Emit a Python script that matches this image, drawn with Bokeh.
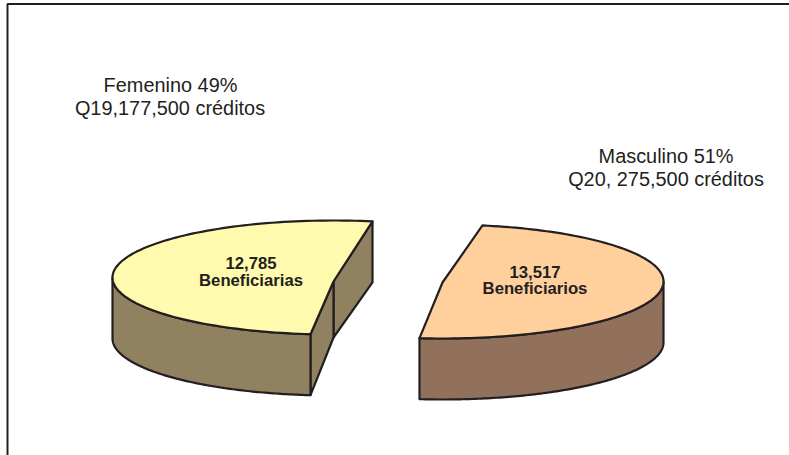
import numpy as np
from bokeh.plotting import figure
from bokeh.core.properties import value
from bokeh.embed import file_html
from bokeh.resources import INLINE

groups = ["Femenino", "Masculino"]
shares = [49, 51]
credits_q = ["Q19,177,500 créditos", "Q20, 275,500 créditos"]
head_labels = ["Femenino 49%", "Masculino 51%"]
benef_values = ["12,785", "13,517"]
benef_labels = ["Beneficiarias", "Beneficiarios"]
top_colors = ["#FFFAAE", "#FFCF9C"]
side_colors = ["#908161", "#91705C"]
INK = "#231F20"

W, H = 789, 455
p = figure(width=W, height=H, x_range=(0, W), y_range=(H, 0), output_backend="svg",
           toolbar_location=None, min_border=0, outline_line_color=None,
           margin=(0, 0, 0, 0))
p.axis.visible = False
p.grid.visible = False
p.background_fill_color = "white"
p.border_fill_color = "white"

# frame
p.line([7, 7, W], [H, 3.5, 3.5], line_color=INK, line_width=2)

DEPTH = 61
A = 221
B = 57

def param(dx, upper):
    t = np.degrees(np.arccos(dx / A))
    return t if upper else -t

def arc(cx, cy, t0, t1, n=120):
    t = np.radians(np.linspace(t0, t1, n))
    return cx + A * np.cos(t), cy - B * np.sin(t)

def poly(xs, ys, fill):
    p.patch(list(xs), list(ys), fill_color=fill, line_color=INK, line_width=2.2, line_join="round")

# Femenino wedge
cx, cy, ay0 = 333, 277, 281
t0, t1 = param(39, True), 360 + param(-23, False)
ax, ay = arc(cx, cy, t0, t1)
sx, sy = arc(cx, cy, 180, t1)
poly([ax[0], ax[0], cx, cx], [ay[0], ay[0] + DEPTH, ay0 + DEPTH - 5, ay0], side_colors[0])
poly([ax[-1], cx, cx, ax[-1]], [ay[-1], ay0, ay0 + DEPTH - 5, ay[-1] + DEPTH], side_colors[0])
poly(np.r_[sx, sx[::-1]], np.r_[sy, sy[::-1] + DEPTH], side_colors[0])
poly(np.r_[ax, cx], np.r_[ay, ay0], top_colors[0])

# Masculino wedge
cx, cy, ay0 = 442, 281, 282
t0, t1 = param(40, True), param(-23, False)
ax, ay = arc(cx, cy, t0, t1)
sx, sy = arc(cx, cy, 0, t1)
poly(np.r_[sx, sx[::-1]], np.r_[sy, sy[::-1] + DEPTH], side_colors[1])
poly(np.r_[ax, cx], np.r_[ay, ay0], top_colors[1])

font = value("Liberation Sans")
p.text([170, 665.5], [84, 155.5], text=head_labels, text_font=font, text_font_size="19.9px",
       text_color=INK, text_align="center", text_baseline="middle")
p.text([169.5, 665.5], [107.5, 178.5], text=credits_q, text_font=font, text_font_size="19.9px",
       text_color=INK, text_align="center", text_baseline="middle")
p.text([250.5, 534.5], [262, 271], text=benef_values, text_font=font, text_font_size="16.7px",
       text_font_style="bold", text_color=INK, text_align="center", text_baseline="middle")
p.text([250.5, 534.5], [279.5, 288], text=benef_labels, text_font=font, text_font_size="16.7px",
       text_font_style="bold", text_color=INK, text_align="center", text_baseline="middle")

open("out.html", "w").write(file_html(p, INLINE))
